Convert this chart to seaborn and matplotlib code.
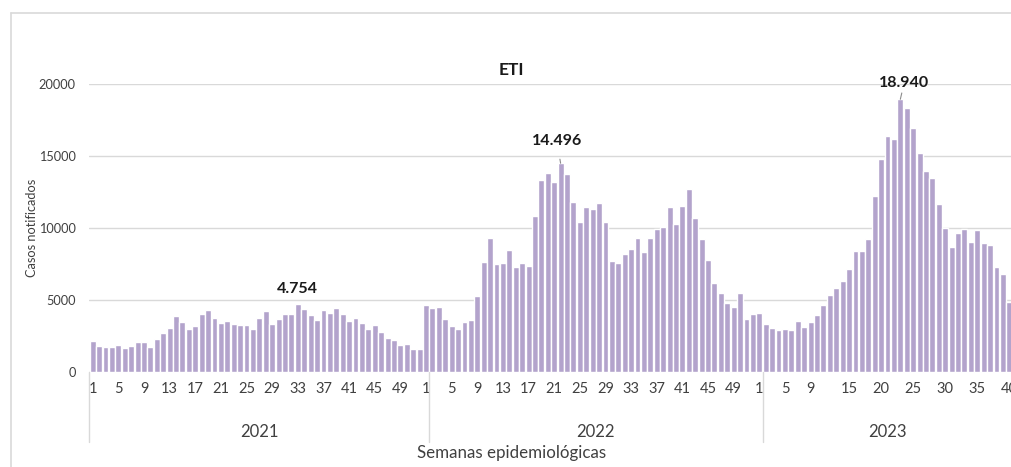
import numpy as np
import pandas as pd
import matplotlib
matplotlib.use("Agg")
import matplotlib.pyplot as plt
import matplotlib.transforms as mtransforms
from matplotlib.lines import Line2D
import seaborn as sns

# weekly ETI cases
casos_2021 = [2180, 1810, 1710, 1710, 1850, 1690, 1780, 2060, 2060, 1760,
              2320, 2710, 3060, 3870, 3450, 2990, 3200, 4010, 4310, 3730,
              3380, 3570, 3330, 3290, 3260, 2990, 3740, 4260, 3310, 3660,
              4050, 4050, 4754, 4400, 3940, 3590, 4330, 4120, 4420, 4000,
              3540, 3770, 3380, 2990, 3240, 2800, 2380, 2250, 1900, 1920,
              1620, 1620]
casos_2022 = [4650, 4470, 4490, 3680, 3220, 3010, 3470, 3590, 5280, 7620,
              9330, 7480, 7590, 8450, 7270, 7550, 7390, 10860, 13330, 13840,
              13170, 14496, 13750, 11780, 10440, 11460, 11340, 11760, 10390, 7710,
              7550, 8220, 8540, 9330, 8310, 9330, 9950, 10090, 11440, 10280,
              11510, 12690, 10720, 9210, 7760, 6200, 5460, 4820, 4490, 5460,
              3700, 4050]
casos_2023 = [4120, 3310, 3040, 2920, 3010, 2920, 3520, 3150, 3470, 3960,
              4630, 5350, 5860, 6300, 7180, 8430, 8430, 9240, 12250, 14770,
              16400, 16210, 18940, 18310, 16920, 15210, 13980, 13450, 11690, 9980,
              8680, 9630, 9960, 9030, 9890, 8980, 8820, 7290, 6780, 4890]

anios = ["2021", "2022", "2023"]
semanas_etiqueta_2021 = [1, 5, 9, 13, 17, 21, 25, 29, 33, 37, 41, 45, 49]
semanas_etiqueta_2022 = [1, 5, 9, 13, 17, 21, 25, 29, 33, 37, 41, 45, 49]
semanas_etiqueta_2023 = [1, 5, 9, 15, 20, 25, 30, 35, 40]
picos = [("2021", 33, "4.754"), ("2022", 22, "14.496"), ("2023", 23, "18.940")]

series = [casos_2021, casos_2022, casos_2023]
rows = []
for anio, vals in zip(anios, series):
    for i, v in enumerate(vals):
        rows.append({"anio": anio, "semana": i + 1, "casos": v})
df = pd.DataFrame(rows)
df["idx"] = np.arange(len(df))
offset = {"2021": 0, "2022": len(casos_2021), "2023": len(casos_2021) + len(casos_2022)}

sns.set_theme(style="white")
plt.rcParams["font.family"] = ["Lato", "DejaVu Sans"]

W, H = 1012, 467
fig = plt.figure(figsize=(W / 100, H / 100), dpi=100)
ax = fig.add_axes([89.5 / W, (H - 372) / H, 923 / W, 288 / H])

bar_color = "#b3a3cc"
sns.barplot(data=df, x="idx", y="casos", color=bar_color, saturation=1,
            width=0.92, ax=ax)

ax.set_xlim(-0.5, len(df) - 0.5)
ax.set_ylim(0, 20000)
ax.set_yticks([0, 5000, 10000, 15000, 20000])
ax.yaxis.grid(True, color="#d9d9d9", linewidth=1)
ax.set_axisbelow(True)
for s in ax.spines.values():
    s.set_visible(False)
ax.set_xlabel("")
ax.set_ylabel("")

# week tick labels
ticks, labels = [], []
for anio, sem in zip(anios, [semanas_etiqueta_2021, semanas_etiqueta_2022, semanas_etiqueta_2023]):
    for w in sem:
        ticks.append(offset[anio] + w - 1)
        labels.append(str(w))
ax.set_xticks(ticks)
ax.set_xticklabels(labels)
ax.tick_params(axis="x", length=0, pad=7, labelsize=10.5, colors="#404040")
ax.tick_params(axis="y", length=0, pad=10, labelsize=9.2, colors="#404040")

# year group dividers and labels
trans = mtransforms.blended_transform_factory(ax.transData, ax.transAxes)
for xd in [-0.5, 52.5, 104.5]:
    ax.plot([xd, xd], [0, -0.242], transform=trans, color="#d9d9d9", lw=1, clip_on=False)
for anio, xc in zip(anios, [26, 78.5, 124]):
    ax.text(xc, -0.208, anio, transform=trans, ha="center", va="center",
            fontsize=12, color="#404040")

# peak annotations
ax.text(offset["2021"] + 32, 5764, picos[0][2], ha="center", va="center",
        fontsize=11.5, fontweight="bold", color="#1a1a1a")
ax.annotate(picos[1][2], xy=(offset["2022"] + 21, 14496), xytext=(72.4, 16063),
            ha="center", va="center", fontsize=11.5, fontweight="bold", color="#1a1a1a",
            arrowprops=dict(arrowstyle="-", color="#8c8c8c", lw=0.8, shrinkA=6, shrinkB=0),
            annotation_clip=False)
ax.annotate(picos[2][2], xy=(offset["2023"] + 22, 18940), xytext=(126.6, 20090),
            ha="center", va="center", fontsize=11.5, fontweight="bold", color="#1a1a1a",
            arrowprops=dict(arrowstyle="-", color="#8c8c8c", lw=0.8, shrinkA=6, shrinkB=0),
            annotation_clip=False)

fig.text(511.7 / W, 1 - 70 / H, "ETI", ha="center", va="center",
         fontsize=12.5, fontweight="bold", color="#1a1a1a")
fig.text(32 / W, 1 - 228 / H, "Casos notificados", rotation=90, ha="center",
         va="center", fontsize=9.2, color="#404040")
fig.text(512 / W, 1 - 453 / H, "Semanas epidemiológicas", ha="center",
         va="center", fontsize=12.2, color="#404040")

# outer chart border (left and top)
fig.add_artist(Line2D([10.5 / W, 10.5 / W], [0, 1 - 12.5 / H], color="#d9d9d9", lw=1.2))
fig.add_artist(Line2D([10.5 / W, 1], [1 - 12.5 / H, 1 - 12.5 / H], color="#d9d9d9", lw=1.2))

fig.savefig("out.png", dpi=100)
